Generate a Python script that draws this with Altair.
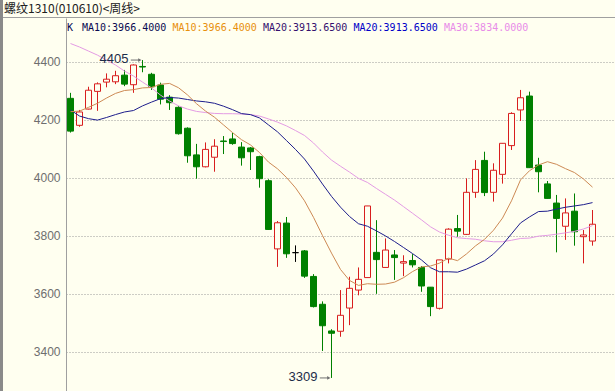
import altair as alt
import pandas as pd

TITLE = "螺纹1310(010610)<周线>"

OPEN = [4273, 4180, 4236, 4297, 4329, 4330, 4353, 4320, 4383, 4356,
        4319, 4277, 4242, 4170, 4078, 4037, 4070, 4126, 4133, 4105,
        4102, 4072, 3989, 3754, 3843, 3741, 3747, 3659, 3563, 3471,
        3470, 3550, 3612, 3655, 3742, 3690, 3733, 3705, 3714, 3690,
        3622, 3549, 3719, 3824, 3804, 3949, 4059, 3949, 4011, 4110,
        4233, 4281, 4043, 3978, 3912, 3832, 3884, 3796, 3781]
HIGH = [4292, 4233, 4313, 4328, 4359, 4368, 4371, 4390, 4405, 4361,
        4327, 4284, 4247, 4173, 4116, 4121, 4132, 4143, 4154, 4122,
        4105, 4075, 3994, 3850, 3864, 3766, 3750, 3667, 3573, 3477,
        3612, 3658, 3690, 3902, 3853, 3790, 3750, 3732, 3736, 3695,
        3622, 3716, 3825, 3871, 3997, 4060, 4089, 4049, 4118, 4225,
        4302, 4296, 4068, 3988, 3940, 3928, 3945, 3819, 3888]
LOW = [4155, 4175, 4235, 4230, 4311, 4322, 4315, 4292, 4363, 4302,
       4252, 4233, 4148, 4051, 3996, 4035, 4020, 4081, 4113, 4041,
       4026, 3965, 3820, 3692, 3723, 3709, 3654, 3552, 3402, 3309,
       3451, 3491, 3594, 3655, 3599, 3690, 3647, 3660, 3690, 3606,
       3522, 3545, 3704, 3796, 3802, 3930, 3936, 3917, 3979, 4095,
       4195, 4034, 3949, 3928, 3742, 3785, 3765, 3704, 3765]
CLOSE = [4160, 4226, 4301, 4323, 4339, 4351, 4322, 4388, 4381, 4313,
         4270, 4258, 4151, 4075, 4037, 4097, 4108, 4124, 4117, 4068,
         4089, 3996, 3821, 3844, 3737, 3741, 3660, 3555, 3489, 3463,
         3525, 3618, 3649, 3902, 3717, 3750, 3724, 3710, 3699, 3626,
         3555, 3716, 3822, 3815, 3949, 4028, 3948, 4025, 4118, 4221,
         4275, 4034, 4020, 3928, 3859, 3878, 3813, 3802, 3839]

MA10_EARLY = [4227, 4229, 4242, 4256, 4274, 4290, 4300, 4303, 4309]
MA20_EARLY = [4233, 4212, 4203, 4198, 4207, 4217, 4226, 4231, 4247, 4260,
              4272, 4276, 4274, 4269, 4264, 4261, 4256, 4246, 4234]
MA30_EARLY = [4462, 4450, 4436, 4422, 4405, 4388, 4367, 4350, 4329, 4309,
              4284, 4264, 4247, 4236, 4228, 4224, 4221, 4220, 4220, 4219,
              4217, 4212, 4202, 4191, 4178, 4162, 4145, 4119, 4088]

LEGEND_LABELS = ["K", "MA10:3966.4000", "MA10:3966.4000", "MA20:3913.6500",
                 "MA20:3913.6500", "MA30:3834.0000"]
Y_TICKS = [3400, 3600, 3800, 4000, 4200, 4400]

# styles / layout
BG = "#FFFFF0"
RED = "#D81E1E"
GREEN = "#008000"
C_MA10 = "#CD8A55"
C_MA20 = "#1E1E8C"
C_MA30 = "#E49BE4"
LEGEND_COLORS = ["#0A0A50", "#0A0A50", "#E8900C", "#35106E", "#0000C8", "#E88CE8"]
LEGEND_X = [1, 16, 106.5, 197, 287.5, 378]

n = len(CLOSE)
df = pd.DataFrame({"idx": list(range(n)), "open": OPEN, "high": HIGH,
                   "low": LOW, "close": CLOSE})
df["dir"] = ["up" if c > o else ("down" if c < o else "flat")
             for o, c in zip(OPEN, CLOSE)]

cs = pd.Series(CLOSE, dtype=float)
ma10 = cs.rolling(10).mean().tolist()
ma20 = cs.rolling(20).mean().tolist()
ma30 = cs.rolling(30).mean().tolist()
ma10[:len(MA10_EARLY)] = MA10_EARLY
ma20[:len(MA20_EARLY)] = MA20_EARLY
ma30[:len(MA30_EARLY)] = MA30_EARLY
ma_df = pd.DataFrame({"idx": list(range(n)), "ma10": ma10, "ma20": ma20, "ma30": ma30})

xs = alt.Scale(domain=[-0.5, 60.5], nice=False, zero=False)
ys = alt.Scale(domain=[3264, 4550], nice=False, zero=False)
Y_AXIS = alt.Axis(values=Y_TICKS, format="d", grid=True, gridDash=[1, 2],
                  gridColor="#9A9A9A", domainColor="#A0A0A0", ticks=False,
                  labelPadding=6, labelFont="Liberation Sans", labelFontSize=12,
                  labelColor="#6E6E6E", title=None, labelOverlap=False)

stroke_scale = alt.Scale(domain=["up", "down", "flat"], range=[RED, GREEN, "#000000"])
fill_scale = alt.Scale(domain=["up", "down", "flat"], range=[BG, GREEN, "#000000"])

base = alt.Chart(df)

wicks = base.mark_rule(strokeWidth=1).encode(
    x=alt.X("idx:Q", scale=xs, axis=None),
    y=alt.Y("low:Q", scale=ys, axis=Y_AXIS),
    y2="high:Q",
    color=alt.Color("dir:N", scale=stroke_scale, legend=None),
)

bodies = base.transform_calculate(
    x0="datum.idx - 1/3", x1="datum.idx + 1/3"
).mark_rect(strokeWidth=1).encode(
    x=alt.X("x0:Q", scale=xs, axis=None),
    x2="x1:Q",
    y=alt.Y("open:Q", scale=ys, axis=Y_AXIS),
    y2="close:Q",
    fill=alt.Fill("dir:N", scale=fill_scale, legend=None),
    stroke=alt.Stroke("dir:N", scale=stroke_scale, legend=None),
)

def ma_line(field, color):
    return alt.Chart(ma_df).mark_line(color=color, strokeWidth=1).encode(
        x=alt.X("idx:Q", scale=xs, axis=None),
        y=alt.Y(f"{field}:Q", scale=ys, axis=Y_AXIS),
    )

lines = [ma_line("ma30", C_MA30), ma_line("ma20", C_MA20), ma_line("ma10", C_MA10)]

pk = HIGH.index(max(HIGH))
tr = LOW.index(min(LOW))
ann = pd.DataFrame({"idx": [pk, tr], "v": [HIGH[pk], LOW[tr]],
                    "t": [str(HIGH[pk]), str(LOW[tr])]})
ann_base = alt.Chart(ann).transform_calculate(a0="datum.idx - 1.3", a1="datum.idx - 0.3")
ann_text = alt.Chart(ann).mark_text(align="right", baseline="middle", dx=-14, dy=-1,
                                    font="Liberation Sans", fontSize=13,
                                    color="#1C2C48").encode(
    x=alt.X("idx:Q", scale=xs, axis=None),
    y=alt.Y("v:Q", scale=ys, axis=Y_AXIS),
    text="t:N",
)
ann_arrow = ann_base.mark_rule(color="#707070", strokeWidth=1).encode(
    x=alt.X("a0:Q", scale=xs, axis=None),
    x2="a1:Q",
    y=alt.Y("v:Q", scale=ys, axis=Y_AXIS),
)
ann_head = ann_base.mark_point(shape="triangle-right", size=14, filled=True,
                               color="#707070", opacity=1).encode(
    x=alt.X("a1:Q", scale=xs, axis=None),
    y=alt.Y("v:Q", scale=ys, axis=Y_AXIS),
)

def text_item(text, x, y, color, font, size):
    return alt.Chart(pd.DataFrame({"t": [text]})).mark_text(
        align="left", baseline="middle", font=font, fontSize=size, color=color
    ).encode(x=alt.value(x), y=alt.value(y), text="t:N")

legend_items = [text_item(t, x, 10, c, "DejaVu Sans Mono", 10)
                for t, x, c in zip(LEGEND_LABELS, LEGEND_X, LEGEND_COLORS)]
title_item = text_item(TITLE, -62, -9, "#202020", "Noto Sans CJK SC", 12)

one = pd.DataFrame({"a": [0]})
border = alt.Chart(one).mark_rule(color="#8A8A8A", strokeWidth=3).encode(
    x=alt.value(-64.5), y=alt.value(-18), y2=alt.value(373))
sep = alt.Chart(one).mark_rule(color="#A0A0A0", strokeWidth=1).encode(
    x=alt.value(-63), x2=alt.value(549), y=alt.value(-0.5))

chart = alt.layer(
    wicks, bodies, *lines, ann_arrow, ann_head, ann_text,
    *legend_items, title_item, border, sep
).properties(
    width=549, height=373,
    padding={"left": 66, "top": 18, "right": 0, "bottom": 0},
    autosize=alt.AutoSizeParams(type="none"),
    background=BG,
).configure_view(stroke=None)

chart.save("out.html", embed_options={"renderer": "svg", "actions": False})
